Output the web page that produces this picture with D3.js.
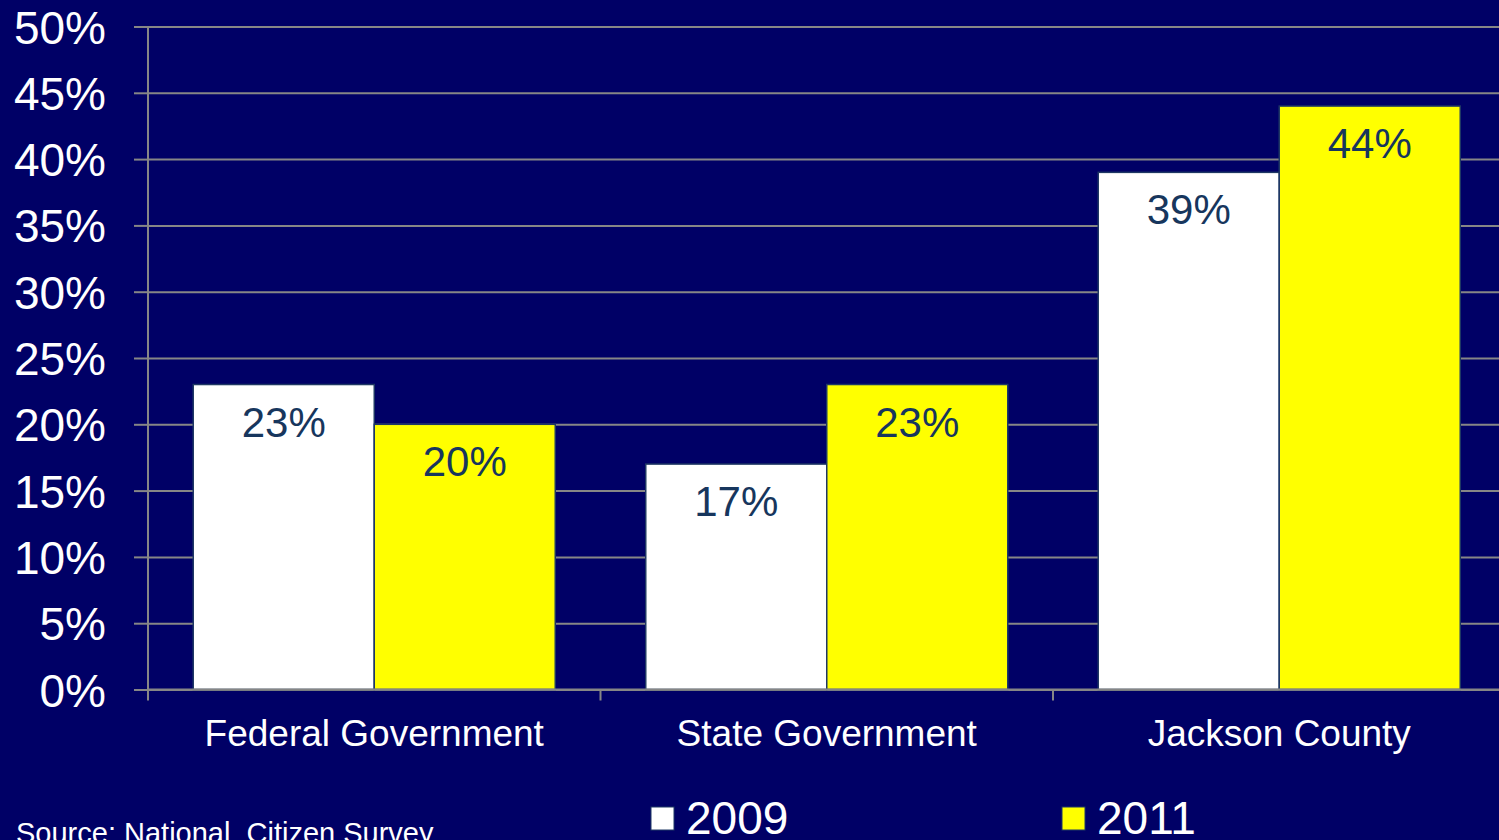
<!DOCTYPE html>
<html>
<head>
<meta charset="utf-8">
<script src="https://cdn.jsdelivr.net/npm/d3@7"></script>
<style>
  html, body { margin: 0; padding: 0; background: #000066; overflow: hidden; }
  svg { display: block; font-family: "Liberation Sans", Arial, sans-serif; }
</style>
</head>
<body>
<svg id="chart" width="1499" height="840"></svg>
<script>
// Trust in levels of government, share of respondents
const categories = ["Federal Government", "State Government", "Jackson County"];
const seriesNames = ["2009", "2011"];
const values2009 = [23, 17, 39];
const values2011 = [20, 23, 44];
const yTicks = [0, 5, 10, 15, 20, 25, 30, 35, 40, 45, 50];
const sourceNote = "Source: National  Citizen Survey";

const seriesColors = ["#ffffff", "#ffff00"];
const seriesValues = [values2009, values2011];

const svg = d3.select("#chart");
const W = 1499, H = 840;

svg.append("rect").attr("width", W).attr("height", H).attr("fill", "#000066");

const left = 148, bandStep = 452.5;
const x0 = d3.scaleBand().domain(categories)
  .range([left, left + bandStep * categories.length]).padding(0);
const x1 = d3.scaleBand().domain(seriesNames)
  .range([0, x0.bandwidth()]).paddingInner(0).paddingOuter(0.25);
const y = d3.scaleLinear().domain([0, 50]).range([689.5, 26.5]);

const gridColor = "#868686";

// horizontal gridlines with left tick marks
const yAxis = svg.append("g")
  .attr("transform", `translate(${left},0)`)
  .call(d3.axisLeft(y).tickValues(yTicks).tickSize(14).tickFormat(d => d + "%"));
yAxis.select(".domain").remove();
yAxis.selectAll(".tick line").attr("stroke", gridColor).attr("stroke-width", 2);
yAxis.selectAll(".tick").append("line")
  .attr("x1", 0).attr("x2", W - left)
  .attr("stroke", gridColor).attr("stroke-width", 2);
yAxis.selectAll(".tick text")
  .attr("x", -42).attr("dy", "0.36em")
  .attr("fill", "#ffffff").attr("font-size", 46)
  .attr("font-family", "Liberation Sans, Arial, sans-serif");

// vertical axis line
svg.append("line")
  .attr("x1", left).attr("x2", left)
  .attr("y1", y(50)).attr("y2", y(0) + 11)
  .attr("stroke", gridColor).attr("stroke-width", 2);

// bars
const rows = categories.map((c, i) => ({ cat: c, vals: seriesNames.map((s, j) => ({ s, j, v: seriesValues[j][i] })) }));
const groups = svg.append("g").selectAll("g").data(rows).join("g")
  .attr("transform", d => `translate(${x0(d.cat)},0)`);

groups.selectAll("rect").data(d => d.vals).join("rect")
  .attr("x", d => x1(d.s))
  .attr("y", d => y(d.v))
  .attr("width", x1.bandwidth())
  .attr("height", d => y(0) - y(d.v))
  .attr("fill", d => seriesColors[d.j])
  .attr("stroke", "#1f3864").attr("stroke-width", 1.5);

groups.selectAll("text").data(d => d.vals).join("text")
  .attr("x", d => x1(d.s) + x1.bandwidth() / 2)
  .attr("y", d => y(d.v) + 52)
  .attr("text-anchor", "middle")
  .attr("font-size", 42)
  .attr("fill", "#17365d")
  .text(d => d.v + "%");

// category axis
const xAxis = svg.append("g");
xAxis.append("line")
  .attr("x1", left).attr("x2", W)
  .attr("y1", y(0)).attr("y2", y(0))
  .attr("stroke", gridColor).attr("stroke-width", 2);
xAxis.selectAll(".cat-tick").data(categories.slice(1)).join("line")
  .attr("class", "cat-tick")
  .attr("x1", d => x0(d)).attr("x2", d => x0(d))
  .attr("y1", y(0)).attr("y2", y(0) + 11)
  .attr("stroke", gridColor).attr("stroke-width", 2);
xAxis.selectAll("text").data(categories).join("text")
  .attr("x", d => x0(d) + x0.bandwidth() / 2)
  .attr("y", 746)
  .attr("text-anchor", "middle")
  .attr("font-size", 37)
  .attr("fill", "#ffffff")
  .text(d => d);

// legend
const legendX = [651, 1062];
const legend = svg.append("g").selectAll("g").data(seriesNames).join("g")
  .attr("transform", (d, i) => `translate(${legendX[i]},807)`);
legend.append("rect")
  .attr("width", 23).attr("height", 23)
  .attr("fill", (d, i) => seriesColors[i])
  .attr("stroke", "#1f3864").attr("stroke-width", 1);
legend.append("text")
  .attr("x", 35).attr("y", 27)
  .attr("font-size", 46)
  .attr("fill", "#ffffff")
  .text(d => d);

// source note
svg.append("text")
  .attr("x", 16).attr("y", 843)
  .attr("font-size", 29)
  .attr("fill", "#ffffff")
  .attr("xml:space", "preserve")
  .style("white-space", "pre")
  .text(sourceNote);
</script>
</body>
</html>
